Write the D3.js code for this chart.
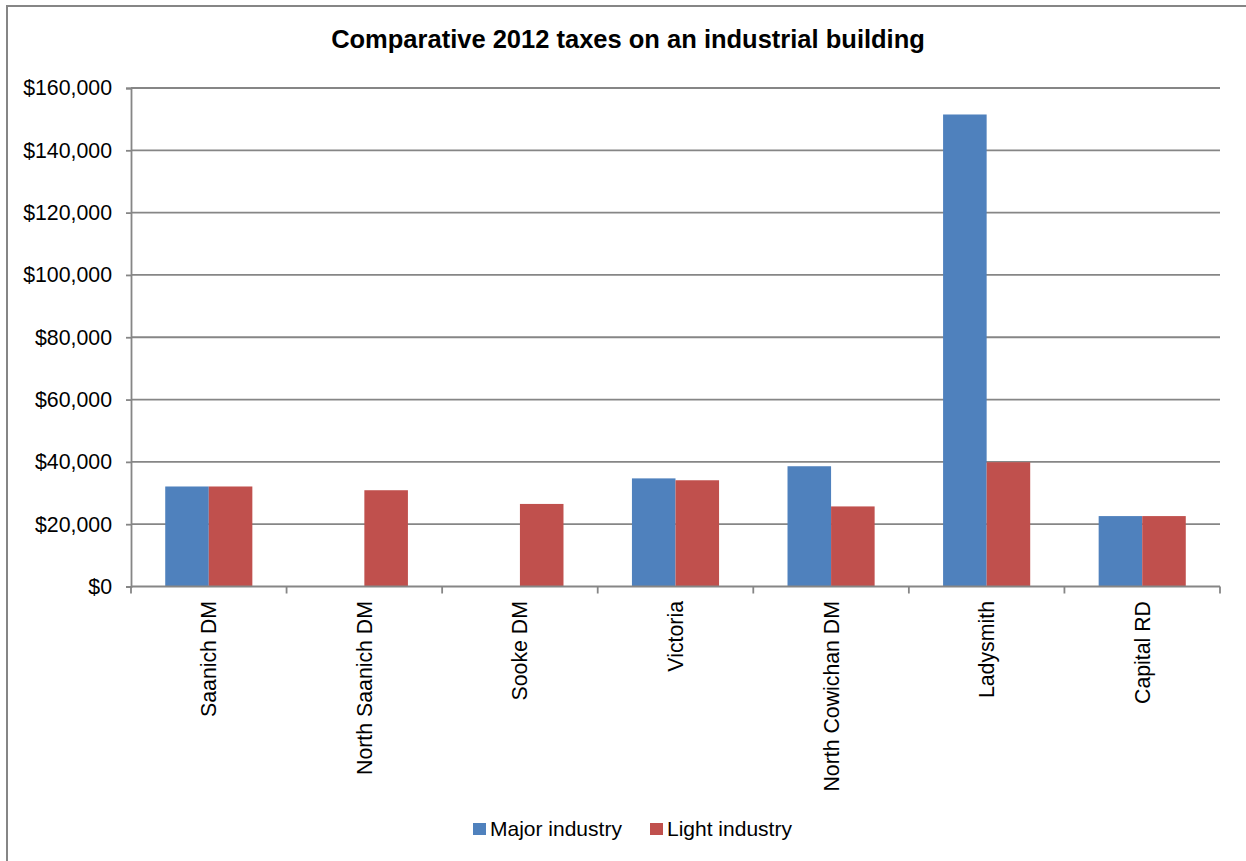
<!DOCTYPE html>
<html><head><meta charset="utf-8">
<script src="https://cdn.jsdelivr.net/npm/d3@7"></script>
<style>body{margin:0;background:#fff}svg{display:block}text{font-family:"Liberation Sans",Arial,sans-serif;fill:#000}</style>
</head><body><svg id="c" width="1246" height="861"></svg>
<script>
const categories = ["Saanich DM","North Saanich DM","Sooke DM","Victoria","North Cowichan DM","Ladysmith","Capital RD"];
const majorIndustry = [32100, null, null, 34700, 38600, 151500, 22600];
const lightIndustry = [32100, 30900, 26500, 34100, 25700, 39900, 22600];
const seriesNames = ["Major industry","Light industry"];
const seriesColors = ["#4F81BD","#C0504D"];
const yTicks = [0,20000,40000,60000,80000,100000,120000,140000,160000];
const title = "Comparative 2012 taxes on an industrial building";

const svg = d3.select("#c");
const L = 131, R = 1220, T = 88, B = 586.5;
svg.append("rect").attr("x",7).attr("y",6).attr("width",1260).attr("height",900)
  .attr("fill","none").attr("stroke","#868686").attr("stroke-width",2);

svg.append("text").attr("x",628).attr("y",48).attr("text-anchor","middle")
  .attr("font-size",25.5).attr("font-weight","bold").text(title);

const x = d3.scaleBand().domain(categories).range([L,R]).paddingInner(0.44).paddingOuter(0.22);
const xFull = d3.scaleBand().domain(categories).range([L,R]);
const x1 = d3.scaleBand().domain(seriesNames).range([0,x.bandwidth()]);
const y = d3.scaleLinear().domain([0,160000]).range([B,T]);

// gridlines
svg.append("g").selectAll("line").data(yTicks.filter(d=>d>0)).join("line")
  .attr("x1",L).attr("x2",R).attr("y1",d=>y(d)).attr("y2",d=>y(d))
  .attr("stroke","#868686").attr("stroke-width",1.8);

// y axis
const yAxis = d3.axisLeft(y).tickValues(yTicks).tickSize(5).tickPadding(14)
  .tickFormat(d=>"$"+d3.format(",")(d));
const gy = svg.append("g").attr("transform",`translate(${L},0)`).call(yAxis);
gy.select(".domain").attr("stroke","#868686").attr("stroke-width",1.8);
gy.selectAll(".tick line").attr("stroke","#868686").attr("stroke-width",1.8);
gy.selectAll(".tick text").attr("font-size",21.3).attr("font-family","Liberation Sans, Arial, sans-serif").attr("fill","#000");

// bars
const data = categories.map((c,i)=>({c, vals:[majorIndustry[i], lightIndustry[i]]}));
const groups = svg.append("g").selectAll("g").data(data).join("g")
  .attr("transform",d=>`translate(${x(d.c)},0)`);
groups.selectAll("rect").data(d=>d.vals.map((v,j)=>({v,j})).filter(o=>o.v!=null)).join("rect")
  .attr("x",o=>x1(seriesNames[o.j])).attr("width",x1.bandwidth())
  .attr("y",o=>y(o.v)).attr("height",o=>B-y(o.v))
  .attr("fill",o=>seriesColors[o.j]);

// x axis
svg.append("line").attr("x1",L).attr("x2",R).attr("y1",B).attr("y2",B)
  .attr("stroke","#868686").attr("stroke-width",1.8);
const bounds = categories.map(c=>xFull(c)).concat([R]);
svg.append("g").selectAll("line").data(bounds).join("line")
  .attr("x1",d=>d).attr("x2",d=>d).attr("y1",B).attr("y2",B+7)
  .attr("stroke","#868686").attr("stroke-width",1.8);
svg.append("g").selectAll("text").data(categories).join("text")
  .attr("transform",c=>`translate(${xFull(c)+xFull.bandwidth()/2},601) rotate(-90)`)
  .attr("text-anchor","end").attr("dy","0.35em").attr("font-size",21.3).text(c=>c);

// legend
const legendX = [473, 650];
const lg = svg.append("g").selectAll("g").data(seriesNames).join("g")
  .attr("transform",(d,i)=>`translate(${legendX[i]},0)`);
lg.append("rect").attr("x",0).attr("y",823).attr("width",13).attr("height",12)
  .attr("fill",(d,i)=>seriesColors[i]);
lg.append("text").attr("x",17).attr("y",836).attr("font-size",21).text(d=>d);
</script></body></html>
